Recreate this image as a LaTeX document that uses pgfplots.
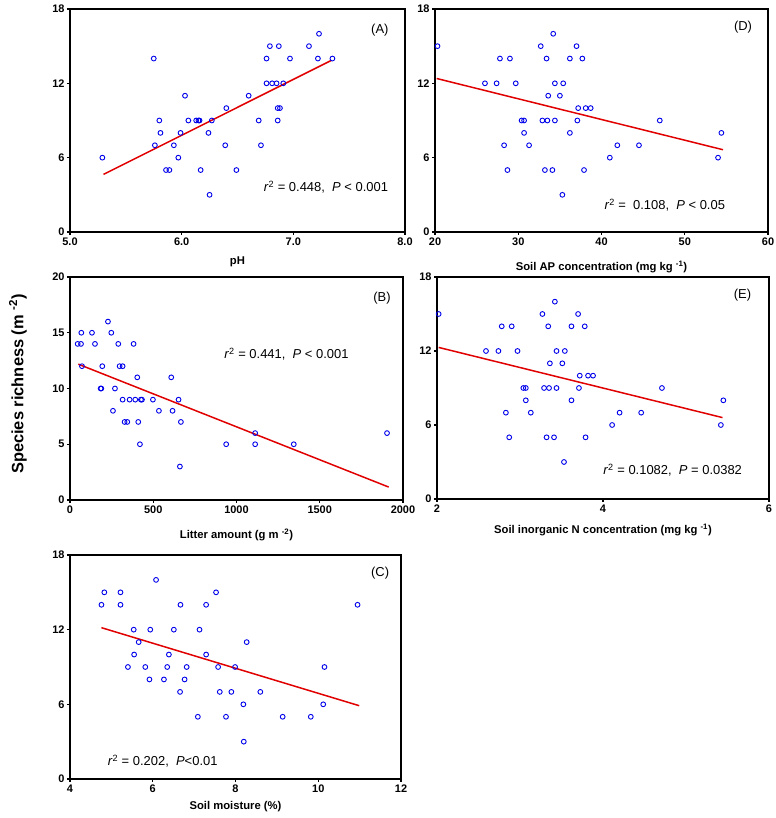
\documentclass[border=0pt]{standalone}
\usepackage{pgfplots}
\pgfplotsset{compat=1.18}
\usepackage{fontspec}
\setmainfont{Liberation Sans}
\definecolor{ptblue}{RGB}{0,0,235}
\definecolor{fitred}{RGB}{225,0,0}
\tikzset{stat/.style={font=\fontsize{13}{15}\selectfont}}
\pgfplotsset{
  panel/.style={
    scale only axis, anchor=south west,
    axis line style={line width=1.5bp},
    tick style={line width=1.2bp, black},
    tick align=outside, tick pos=left,
    major tick length=3bp,
    /pgf/number format/assume math mode=true,
    /pgf/number format/1000 sep={},
    ticklabel style={font=\fontsize{11}{13}\selectfont\bfseries},
    yticklabel style={xshift=1bp},
    xticklabel style={yshift=1bp},
    label style={font=\fontsize{11.3}{13}\selectfont\bfseries},
    xlabel style={at={(axis description cs:0.5,0)}, anchor=center},
    clip=false,
  },
  pts/.style={only marks, mark=o, ptblue, mark size=2.4bp, mark options={line width=0.9bp}},
  fit/.style={no marks, fitred, line width=1.5bp},
}
\begin{document}
\begin{tikzpicture}
\path[use as bounding box] (0,0) rectangle (776bp,818bp);
% Panel A
\begin{axis}[panel, at={(70bp,586bp)}, width=335bp, height=223bp,
  xmin=5, xmax=8, ymin=0, ymax=18, xtick={5,6,7,8}, ytick={0,6,12,18},
  xticklabel style={/pgf/number format/.cd, fixed, fixed zerofill, precision=1},
  xlabel={pH}, xlabel style={yshift=-30bp}]
\addplot[pts] coordinates {
(5.29,6) (5.75,14) (5.80,9) (5.81,8) (5.76,7) (5.86,5) (5.89,5) (5.93,7) (5.97,6) (5.99,8)
(6.03,11) (6.06,9) (6.13,9) (6.15,9) (6.16,9) (6.17,5) (6.24,8) (6.27,9) (6.25,3) (6.40,10)
(6.39,7) (6.49,5) (6.60,11) (6.69,9) (6.71,7) (6.76,14) (6.76,12) (6.79,15) (6.81,12) (6.85,12)
(6.87,15) (6.86,10) (6.88,10) (6.86,9) (6.91,12) (6.97,14) (7.14,15) (7.23,16) (7.22,14) (7.35,14)};
\addplot[fit] coordinates {(5.30,4.65) (7.34,13.85)};
\node[stat] at (rel axis cs:0.925,0.906) {(A)};
\node[stat] at (rel axis cs:0.764,0.20) {\textit{r}\textsuperscript{2} = 0.448,\ \ \textit{P} < 0.001};
\end{axis}
% Panel D
\begin{axis}[panel, at={(435bp,586bp)}, width=333bp, height=223bp,
  xmin=20, xmax=60, ymin=0, ymax=18, xtick={20,30,40,50,60}, ytick={0,6,12,18},
  xlabel={Soil AP concentration (mg kg \textsuperscript{-1})}, xlabel style={yshift=-35bp}]
\addplot[pts] coordinates {
(20.3,15) (26.0,12) (27.4,12) (27.8,14) (28.3,7) (28.7,5) (29.0,14) (29.7,12) (30.4,9) (30.7,9)
(30.7,8) (31.3,7) (32.7,15) (32.9,9) (33.2,5) (33.4,14) (33.5,9) (33.6,11) (34.1,5) (34.2,16)
(34.4,12) (34.4,9) (35.0,11) (35.3,3) (35.4,12) (36.2,14) (36.2,8) (37.0,15) (37.1,9) (37.2,10)
(37.7,14) (37.9,5) (38.1,10) (38.7,10) (41.0,6) (41.9,7) (44.5,7) (47.0,9) (54.0,6) (54.4,8)};
\addplot[fit] coordinates {(20.2,12.39) (54.6,6.64)};
\node[stat] at (rel axis cs:0.925,0.919) {(D)};
\node[stat] at (rel axis cs:0.69,0.121) {\textit{r}\textsuperscript{2} =\ \ 0.108,\ \ \textit{P} < 0.05};
\end{axis}
% Panel B
\begin{axis}[panel, at={(70bp,318bp)}, width=333bp, height=223bp,
  xmin=0, xmax=2000, ymin=0, ymax=20, xtick={0,500,1000,1500,2000}, ytick={0,5,10,15,20},
  xlabel={Litter amount (g m \textsuperscript{-2})}, xlabel style={yshift=-35bp}]
\addplot[pts] coordinates {
(46,14) (66,14) (68,15) (72,12) (132,15) (150,14) (184,10) (188,10) (194,12) (228,16)
(248,15) (258,8) (270,10) (290,14) (298,12) (316,12) (316,9) (328,7) (344,7) (358,9)
(382,14) (392,9) (404,11) (410,7) (420,5) (426,9) (432,9) (498,9) (534,8) (608,11)
(616,8) (652,9) (660,3) (666,7) (938,5) (1112,6) (1112,5) (1344,5) (1904,6)};
\addplot[fit] coordinates {(50,12.18) (1914,1.16)};
\node[stat] at (rel axis cs:0.937,0.906) {(B)};
\node[stat] at (rel axis cs:0.65,0.655) {\textit{r}\textsuperscript{2} = 0.441,\ \ \textit{P} < 0.001};
\end{axis}
% Panel E
\begin{axis}[panel, at={(437bp,319bp)}, width=332bp, height=222bp,
  xmin=2, xmax=6, ymin=0, ymax=18, xtick={2,4,6}, ytick={0,6,12,18},
  xlabel={Soil inorganic N concentration (mg kg \textsuperscript{-1})}, xlabel style={yshift=-31bp}]
\addplot[pts] coordinates {
(2.02,15) (2.59,12) (2.74,12) (2.78,14) (2.83,7) (2.87,5) (2.90,14) (2.97,12) (3.04,9) (3.07,9)
(3.07,8) (3.13,7) (3.27,15) (3.29,9) (3.32,5) (3.34,14) (3.35,9) (3.36,11) (3.41,5) (3.42,16)
(3.44,12) (3.44,9) (3.51,11) (3.53,3) (3.54,12) (3.62,14) (3.62,8) (3.70,15) (3.71,9) (3.72,10)
(3.78,14) (3.79,5) (3.82,10) (3.88,10) (4.11,6) (4.20,7) (4.46,7) (4.71,9) (5.42,6) (5.45,8)};
\addplot[fit] coordinates {(2.02,12.29) (5.44,6.60)};
\node[stat] at (rel axis cs:0.92,0.92) {(E)};
\node[stat] at (rel axis cs:0.71,0.13) {\textit{r}\textsuperscript{2} = 0.1082,\ \ \textit{P} = 0.0382};
\end{axis}
% Panel C
\begin{axis}[panel, at={(70bp,39bp)}, width=331bp, height=224bp,
  xmin=4, xmax=12, ymin=0, ymax=18, xtick={4,6,8,10,12}, ytick={0,6,12,18},
  xlabel={Soil moisture (\%)}, xlabel style={yshift=-28bp}]
\addplot[pts] coordinates {
(4.76,14) (4.83,15) (5.22,15) (5.22,14) (5.54,12) (5.55,10) (5.40,9) (5.66,11) (5.82,9) (5.92,8)
(5.94,12) (6.08,16) (6.27,8) (6.35,9) (6.39,10) (6.51,12) (6.66,7) (6.67,14) (6.77,8) (6.82,9)
(7.09,5) (7.13,12) (7.29,14) (7.29,10) (7.53,15) (7.58,9) (7.62,7) (7.77,5) (7.90,7) (7.99,9)
(8.19,6) (8.20,3) (8.27,11) (8.60,7) (9.14,5) (9.82,5) (10.12,6) (10.15,9) (10.95,14)};
\addplot[fit] coordinates {(4.76,12.16) (10.99,5.89)};
\node[stat] at (rel axis cs:0.937,0.92) {(C)};
\node[stat] at (rel axis cs:0.28,0.08) {\textit{r}\textsuperscript{2} = 0.202,\ \ \textit{P}<0.01};
\end{axis}
\node[rotate=90, font=\fontsize{16.5}{18}\selectfont\bfseries] at (18bp,434bp) {Species richness (m \textsuperscript{-2})};
\end{tikzpicture}
\end{document}
